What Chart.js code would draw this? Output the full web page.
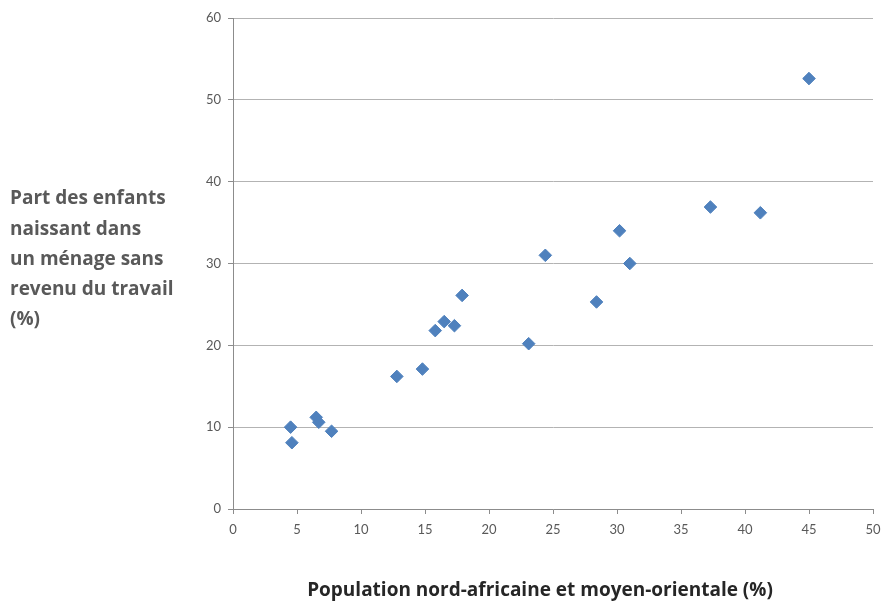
<!DOCTYPE html>
<html lang="fr">
<head>
    <meta charset="UTF-8">
    <title>Population nord-africaine et moyen-orientale</title>
    <script src="https://cdn.jsdelivr.net/npm/chart.js"></script>
    <style>
        html, body { margin: 0; padding: 0; background: #fff; }
        #wrap { width: 883px; height: 604px; }
    </style>
</head>
<body>
    <div id="wrap"><canvas id="scatter"></canvas></div>

    <script>
        // Values
        const popPct = [4.5, 4.6, 6.5, 6.7, 7.7, 12.8, 14.8, 15.8, 16.5, 17.3, 17.9,
                        23.1, 24.4, 28.4, 30.2, 31.0, 37.3, 41.2, 45.0];
        const childPct = [10.0, 8.1, 11.2, 10.6, 9.5, 16.2, 17.1, 21.8, 22.9, 22.4, 26.1,
                          20.2, 31.0, 25.3, 34.0, 30.0, 36.9, 36.2, 52.6];

        const xTitle = 'Population nord-africaine et moyen-orientale (%)';
        const yTitleLines = ['Part des enfants', 'naissant dans', 'un ménage sans', 'revenu du travail', '(%)'];

        const TITLE_FONT = '"Open Sans", sans-serif';
        const TICK_FONT = 'Lato, "Open Sans", sans-serif';

        // both axis titles sit off-centre in the original, so draw them by hand
        const axisTitles = {
            id: 'axisTitles',
            afterDraw(chart) {
                const ctx = chart.ctx;
                ctx.save();
                ctx.font = 'bold 19px ' + TITLE_FONT;
                ctx.textBaseline = 'middle';

                ctx.fillStyle = '#595959';
                ctx.textAlign = 'left';
                yTitleLines.forEach((line, i) => ctx.fillText(line, 10, 199 + i * 30.2));

                ctx.fillStyle = '#262626';
                ctx.textAlign = 'center';
                ctx.fillText(xTitle, 540, 591);
                ctx.restore();
            }
        };

        const points = popPct.map((x, i) => ({ x: x, y: childPct[i] }));

        new Chart(document.getElementById('scatter'), {
            type: 'scatter',
            data: {
                datasets: [{
                    data: points,
                    pointStyle: 'rectRot',
                    pointRadius: 6.3,
                    backgroundColor: '#4F81BD',
                    borderColor: '#4F81BD',
                    borderWidth: 1
                }]
            },
            options: {
                responsive: true,
                maintainAspectRatio: false,
                animation: false,
                layout: { padding: { top: 18, right: 10, bottom: 0, left: 0 } },
                plugins: {
                    legend: { display: false },
                    tooltip: { enabled: false }
                },
                scales: {
                    x: {
                        type: 'linear',
                        min: 0,
                        max: 50,
                        ticks: { stepSize: 5, padding: 8, color: '#595959', font: { family: TICK_FONT, size: 13 } },
                        grid: { drawOnChartArea: false, drawTicks: true, tickLength: 5, tickColor: '#8c8c8c' },
                        border: { color: '#8c8c8c' },
                        afterFit(scale) {
                            scale.height = 95;
                            scale.paddingLeft = 0;
                            scale.paddingRight = 0;
                        }
                    },
                    y: {
                        min: 0,
                        max: 60,
                        ticks: { stepSize: 10, padding: 7, color: '#595959', font: { family: TICK_FONT, size: 13 } },
                        grid: { color: '#b3b3b3', tickLength: 5, tickColor: '#8c8c8c' },
                        border: { color: '#8c8c8c' },
                        afterFit(scale) { scale.width = 233; }
                    }
                }
            },
            plugins: [axisTitles]
        });
    </script>
</body>
</html>
